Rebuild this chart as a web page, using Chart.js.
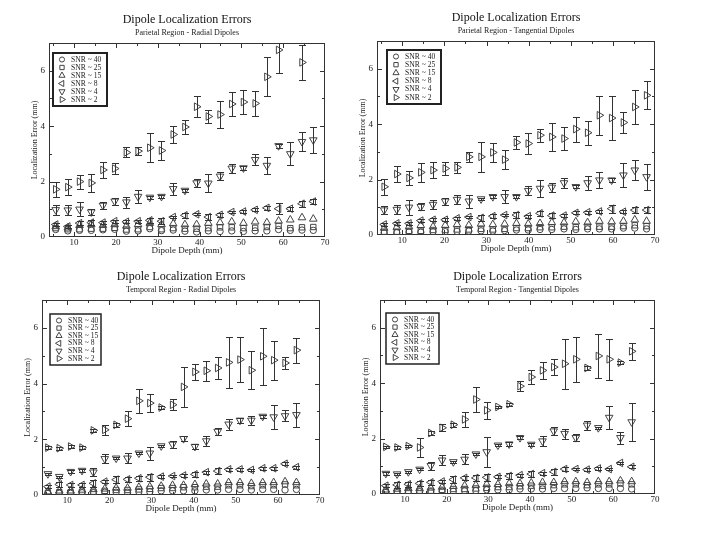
<!DOCTYPE html>
<html>
<head>
<meta charset="utf-8">
<title>Dipole Localization Errors</title>
<script src="https://cdn.jsdelivr.net/npm/chart.js@4.4.1/dist/chart.umd.min.js"></script>
<style>
  body { margin: 0; background: #fff; }
  #page { position: relative; width: 720px; height: 540px; overflow: hidden; background: #fff; }
  #page canvas { position: absolute; }
</style>
</head>
<body>
<div id="page">
  <canvas id="c1"></canvas>
  <canvas id="c2"></canvas>
  <canvas id="c3"></canvas>
  <canvas id="c4"></canvas>
</div>
<script>
// --- donnees ---
const snrLabels = ['SNR ~ 40', 'SNR ~ 25', 'SNR ~ 15', 'SNR ~ 8', 'SNR ~ 4', 'SNR ~ 2'];

const depthParRad = [5.6, 8.5, 11.3, 14.1, 16.9, 19.7, 22.5, 25.3, 28.1, 30.9, 33.7, 36.5, 39.3, 42.1, 44.9, 47.7, 50.5, 53.3, 56.1, 58.9, 61.7, 64.5, 67.2];
const depthParTan = [5.7, 8.7, 11.6, 14.4, 17.3, 20.2, 23.0, 25.8, 28.7, 31.5, 34.3, 37.1, 39.9, 42.7, 45.5, 48.4, 51.2, 54.0, 56.8, 59.7, 62.5, 65.2, 68.0];
const depthTemporal = [5.4, 8.1, 10.8, 13.5, 16.2, 18.9, 21.6, 24.3, 27.0, 29.6, 32.3, 35.0, 37.6, 40.3, 43.0, 45.7, 48.3, 51.0, 53.7, 56.4, 59.0, 61.7, 64.4];

// Parietal - radial
const parRad40 = [0.27, 0.22, 0.24, 0.24, 0.26, 0.28, 0.21, 0.22, 0.30, 0.23, 0.25, 0.21, 0.18, 0.22, 0.20, 0.22, 0.20, 0.22, 0.22, 0.27, 0.24, 0.25, 0.24];
const parRad25 = [0.32, 0.28, 0.28, 0.30, 0.30, 0.33, 0.27, 0.28, 0.36, 0.28, 0.32, 0.30, 0.30, 0.32, 0.35, 0.35, 0.32, 0.33, 0.36, 0.40, 0.32, 0.35, 0.36];
const parRad15 = [0.38, 0.33, 0.42, 0.45, 0.42, 0.45, 0.40, 0.45, 0.50, 0.45, 0.48, 0.45, 0.45, 0.50, 0.52, 0.55, 0.50, 0.55, 0.52, 0.58, 0.62, 0.70, 0.65];
const parRad8 = [0.45, 0.38, 0.50, 0.52, 0.52, 0.57, 0.55, 0.57, 0.60, 0.57, 0.72, 0.78, 0.82, 0.72, 0.80, 0.90, 0.92, 0.98, 1.05, 1.02, 1.02, 1.20, 1.28];
const parRad4 = [0.98, 0.97, 1.00, 0.90, 1.14, 1.29, 1.26, 1.46, 1.43, 1.46, 1.74, 1.68, 1.95, 1.94, 2.19, 2.48, 2.49, 2.79, 2.58, 3.29, 3.00, 3.44, 3.50];
const parRad2 = [1.72, 1.80, 2.00, 1.95, 2.42, 2.47, 3.05, 3.10, 3.22, 3.12, 3.70, 3.97, 4.70, 4.35, 4.42, 4.80, 4.87, 4.82, 5.78, 6.75, null, 6.30, null];
const errParRad8 = [0.06, 0.05, 0.06, 0.08, 0.06, 0.06, 0.05, 0.06, 0.10, 0.10, 0.05, 0.10, 0.04, 0.10, 0.08, 0.05, 0.05, 0.05, 0.06, 0.20, 0.08, 0.10, 0.10];
const errParRad4 = [0.18, 0.18, 0.25, 0.10, 0.13, 0.12, 0.20, 0.22, 0.05, 0.04, 0.21, 0.05, 0.13, 0.32, 0.15, 0.16, 0.07, 0.21, 0.30, 0.07, 0.42, 0.35, 0.46];
const errParRad2 = [0.28, 0.29, 0.25, 0.32, 0.29, 0.20, 0.18, 0.15, 0.52, 0.33, 0.32, 0.24, 0.37, 0.25, 0.50, 0.43, 0.44, 0.44, 0.70, 0.83, null, 0.63, null];

// Parietal - tangential
const parTan40 = [0.08, 0.08, 0.10, 0.10, 0.12, 0.12, 0.13, 0.14, 0.15, 0.14, 0.16, 0.18, 0.18, 0.20, 0.20, 0.22, 0.20, 0.22, 0.22, 0.22, 0.25, 0.25, 0.22];
const parTan25 = [0.12, 0.12, 0.15, 0.15, 0.18, 0.18, 0.20, 0.20, 0.22, 0.20, 0.22, 0.25, 0.25, 0.28, 0.28, 0.30, 0.28, 0.30, 0.30, 0.30, 0.32, 0.35, 0.32];
const parTan15 = [0.25, 0.28, 0.30, 0.35, 0.30, 0.35, 0.38, 0.35, 0.40, 0.38, 0.40, 0.42, 0.40, 0.42, 0.45, 0.45, 0.48, 0.45, 0.50, 0.48, 0.50, 0.55, 0.50];
const parTan8 = [0.38, 0.42, 0.42, 0.52, 0.55, 0.55, 0.60, 0.65, 0.62, 0.68, 0.72, 0.72, 0.68, 0.78, 0.70, 0.70, 0.80, 0.82, 0.85, 0.95, 0.84, 0.90, 0.90];
const parTan4 = [0.90, 0.92, 1.00, 1.02, 1.10, 1.22, 1.28, 1.22, 1.30, 1.38, 1.38, 1.38, 1.60, 1.68, 1.72, 1.88, 1.74, 1.88, 1.98, 1.98, 2.16, 2.34, 2.10];
const parTan2 = [1.74, 2.20, 2.06, 2.26, 2.34, 2.40, 2.44, 2.82, 2.82, 2.98, 2.72, 3.34, 3.30, 3.60, 3.54, 3.48, 3.82, 3.69, 4.32, 4.22, 4.06, 4.62, 5.04];
const errParTan8 = [0.05, 0.05, 0.06, 0.06, 0.05, 0.05, 0.05, 0.05, 0.10, 0.08, 0.05, 0.10, 0.05, 0.10, 0.08, 0.05, 0.05, 0.05, 0.05, 0.15, 0.06, 0.10, 0.10];
const errParTan4 = [0.16, 0.18, 0.27, 0.13, 0.15, 0.12, 0.16, 0.24, 0.05, 0.05, 0.24, 0.05, 0.17, 0.32, 0.16, 0.17, 0.05, 0.25, 0.30, 0.08, 0.42, 0.35, 0.47];
const errParTan2 = [0.28, 0.29, 0.26, 0.33, 0.30, 0.24, 0.20, 0.18, 0.54, 0.33, 0.33, 0.24, 0.38, 0.24, 0.50, 0.42, 0.45, 0.44, 0.70, 0.80, 0.38, 0.62, 0.50];

// Temporal - radial
const temRad40 = [0.05, 0.06, 0.06, 0.08, 0.08, 0.10, 0.10, 0.10, 0.12, 0.12, 0.15, 0.15, 0.15, 0.15, 0.18, 0.18, 0.20, 0.20, 0.18, 0.20, 0.20, 0.18, 0.20];
const temRad25 = [0.08, 0.10, 0.10, 0.12, 0.12, 0.15, 0.18, 0.18, 0.20, 0.22, 0.25, 0.25, 0.28, 0.28, 0.30, 0.30, 0.35, 0.35, 0.32, 0.35, 0.35, 0.38, 0.35];
const temRad15 = [0.12, 0.15, 0.15, 0.18, 0.20, 0.22, 0.25, 0.25, 0.28, 0.30, 0.32, 0.35, 0.35, 0.38, 0.40, 0.40, 0.45, 0.45, 0.42, 0.45, 0.45, 0.48, 0.45];
const temRad8 = [0.30, 0.38, 0.36, 0.36, 0.42, 0.48, 0.55, 0.56, 0.60, 0.64, 0.66, 0.68, 0.70, 0.74, 0.82, 0.86, 0.92, 0.92, 0.90, 0.96, 0.96, 1.12, 1.00];
const temRad4 = [0.76, 0.66, 0.84, 0.88, 0.82, 1.30, 1.32, 1.32, 1.50, 1.50, 1.76, 1.82, 2.02, 1.74, 1.94, 2.28, 2.54, 2.68, 2.68, 2.82, 2.80, 2.84, 2.88];
const temRad2 = [1.70, 1.68, 1.74, 1.70, 2.32, 2.34, 2.52, 2.74, 3.38, 3.30, 3.14, 3.24, 3.88, 4.42, 4.46, 4.56, 4.76, 4.86, 4.48, 4.98, 4.84, 4.74, 5.20];
const errTemRad8 = [0.05, 0.10, 0.08, 0.08, 0.12, 0.05, 0.12, 0.08, 0.10, 0.12, 0.05, 0.05, 0.05, 0.10, 0.05, 0.12, 0.05, 0.05, 0.05, 0.05, 0.05, 0.05, 0.05];
const errTemRad4 = [0.04, 0.04, 0.04, 0.04, 0.14, 0.16, 0.04, 0.18, 0.04, 0.24, 0.04, 0.12, 0.09, 0.08, 0.17, 0.13, 0.19, 0.10, 0.17, 0.05, 0.42, 0.20, 0.44];
const errTemRad2 = [0.05, 0.05, 0.05, 0.05, 0.06, 0.17, 0.07, 0.28, 0.42, 0.31, 0.07, 0.19, 0.72, 0.28, 0.36, 0.39, 0.91, 0.82, 0.69, 1.02, 0.70, 0.23, 0.45];

// Temporal - tangential
const temTan40 = [0.05, 0.05, 0.06, 0.08, 0.08, 0.10, 0.10, 0.12, 0.12, 0.15, 0.15, 0.15, 0.18, 0.18, 0.18, 0.20, 0.20, 0.20, 0.22, 0.20, 0.20, 0.20, 0.18];
const temTan25 = [0.08, 0.10, 0.10, 0.12, 0.12, 0.15, 0.18, 0.18, 0.20, 0.22, 0.25, 0.25, 0.28, 0.30, 0.30, 0.32, 0.35, 0.35, 0.32, 0.35, 0.35, 0.38, 0.35];
const temTan15 = [0.15, 0.18, 0.20, 0.20, 0.22, 0.25, 0.28, 0.30, 0.32, 0.35, 0.35, 0.38, 0.38, 0.40, 0.42, 0.42, 0.45, 0.45, 0.42, 0.45, 0.45, 0.48, 0.45];
const temTan8 = [0.30, 0.33, 0.35, 0.38, 0.42, 0.45, 0.52, 0.58, 0.58, 0.60, 0.62, 0.65, 0.68, 0.72, 0.75, 0.80, 0.90, 0.90, 0.88, 0.92, 0.90, 1.12, 0.98];
const temTan4 = [0.74, 0.72, 0.80, 0.89, 1.02, 1.22, 1.16, 1.25, 1.44, 1.52, 1.76, 1.80, 2.03, 1.79, 1.91, 2.27, 2.18, 2.03, 2.48, 2.39, 2.76, 2.03, 2.60];
const temTan2 = [1.70, 1.68, 1.73, 1.68, 2.20, 2.39, 2.50, 2.69, 3.41, 3.02, 3.14, 3.24, 3.89, 4.22, 4.46, 4.58, 4.70, 4.86, 4.55, 4.98, 4.86, 4.74, 5.15];
const errTemTan8 = [0.05, 0.10, 0.08, 0.08, 0.10, 0.05, 0.12, 0.08, 0.10, 0.12, 0.05, 0.10, 0.05, 0.10, 0.05, 0.12, 0.08, 0.05, 0.05, 0.05, 0.05, 0.05, 0.05];
const errTemTan4 = [0.04, 0.04, 0.04, 0.04, 0.15, 0.18, 0.04, 0.18, 0.04, 0.55, 0.04, 0.07, 0.06, 0.04, 0.17, 0.15, 0.18, 0.12, 0.17, 0.04, 0.42, 0.21, 0.70];
const errTemTan2 = [0.05, 0.04, 0.05, 0.33, 0.06, 0.13, 0.07, 0.28, 0.44, 0.31, 0.05, 0.05, 0.18, 0.26, 0.32, 0.30, 0.90, 0.81, 0.06, 0.78, 0.75, 0.06, 0.30];

const SERIF = "'Liberation Serif', 'DejaVu Serif', serif";
const SIDE = 40, TOP = 43, BOTTOM = 22;

// style des marqueurs : cercle, carre, triangle haut / gauche / bas / droite
const markers = [
    { style: 'circle', rot: 0, r: 3.2 },
    { style: 'rect', rot: 0, r: 3.8 },
    { style: 'triangle', rot: 0, r: 4.4 },
    { style: 'triangle', rot: 270, r: 4.4 },
    { style: 'triangle', rot: 180, r: 4.4 },
    { style: 'triangle', rot: 90, r: 4.4 }
];

const panels = [
    { id: 'c1', subtitle: 'Parietal Region - Radial Dipoles', depth: depthParRad,
      values: [parRad40, parRad25, parRad15, parRad8, parRad4, parRad2],
      errors: [null, null, null, errParRad8, errParRad4, errParRad2],
      area: { l: 49, t: 43, r: 325, b: 237 }, legend: { dx: 4, dy: 10, w: 54, h: 53, lw: 2 } },
    { id: 'c2', subtitle: 'Parietal Region - Tangential Dipoles', depth: depthParTan,
      values: [parTan40, parTan25, parTan15, parTan8, parTan4, parTan2],
      errors: [null, null, null, errParTan8, errParTan4, errParTan2],
      area: { l: 377, t: 41, r: 655, b: 235 }, legend: { dx: 10, dy: 9, w: 54, h: 54, lw: 2 } },
    { id: 'c3', subtitle: 'Temporal Region - Radial Dipoles', depth: depthTemporal,
      values: [temRad40, temRad25, temRad15, temRad8, temRad4, temRad2],
      errors: [null, null, null, errTemRad8, errTemRad4, errTemRad2],
      area: { l: 42, t: 300, r: 320, b: 495 }, legend: { dx: 8, dy: 14, w: 51, h: 51, lw: 1.5 } },
    { id: 'c4', subtitle: 'Temporal Region - Tangential Dipoles', depth: depthTemporal,
      values: [temTan40, temTan25, temTan15, temTan8, temTan4, temTan2],
      errors: [null, null, null, errTemTan8, errTemTan4, errTemTan2],
      area: { l: 380, t: 300, r: 655, b: 494 }, legend: { dx: 6, dy: 13, w: 53, h: 51, lw: 1.5 } }
];

// cadre + graduations vers l'interieur sur les 4 cotes
const framePlugin = {
    id: 'frame',
    beforeDatasetsDraw(chart) {
        const { ctx, chartArea: a, scales: { x, y } } = chart;
        ctx.save();
        ctx.strokeStyle = '#333';
        ctx.lineWidth = 1;
        ctx.strokeRect(a.left + 0.5, a.top + 0.5, a.right - a.left - 1, a.bottom - a.top - 1);
        ctx.beginPath();
        const xs = x.ticks.map(t => t.value);
        const xStep = xs[1] - xs[0];
        for (let v = xs[0] - xStep / 2; v < x.max; v += xStep / 2) {
            if (v <= x.min) continue;
            const len = (Math.abs((v - xs[0]) % xStep) < 1e-6) ? 5 : 3;
            const px = Math.round(x.getPixelForValue(v)) + 0.5;
            ctx.moveTo(px, a.bottom); ctx.lineTo(px, a.bottom - len);
            ctx.moveTo(px, a.top); ctx.lineTo(px, a.top + len);
        }
        const ys = y.ticks.map(t => t.value);
        const yStep = ys[1] - ys[0];
        for (let v = ys[0] + yStep / 2; v < y.max; v += yStep / 2) {
            const len = (Math.abs((v - ys[0]) % yStep) < 1e-6) ? 5 : 3;
            const py = Math.round(y.getPixelForValue(v)) + 0.5;
            ctx.moveTo(a.left, py); ctx.lineTo(a.left + len, py);
            ctx.moveTo(a.right, py); ctx.lineTo(a.right - len, py);
        }
        ctx.stroke();
        ctx.restore();
    }
};

// barres d'erreur (pas dans Chart.js de base)
const errorBarPlugin = {
    id: 'errorBars',
    afterDatasetsDraw(chart) {
        const { ctx, chartArea: a, scales: { x, y } } = chart;
        ctx.save();
        ctx.beginPath();
        ctx.rect(a.left, a.top, a.right - a.left, a.bottom - a.top);
        ctx.clip();
        ctx.strokeStyle = '#333';
        ctx.lineWidth = 1;
        ctx.beginPath();
        chart.data.datasets.forEach(ds => {
            ds.data.forEach(p => {
                if (!p.err) return;
                const px = Math.round(x.getPixelForValue(p.x)) + 0.5;
                const top = Math.round(y.getPixelForValue(p.y + p.err)) + 0.5;
                const bot = Math.round(y.getPixelForValue(p.y - p.err)) + 0.5;
                ctx.moveTo(px, top); ctx.lineTo(px, bot);
                ctx.moveTo(px - 3.5, top); ctx.lineTo(px + 3.5, top);
                ctx.moveTo(px - 3.5, bot); ctx.lineTo(px + 3.5, bot);
            });
        });
        ctx.stroke();
        ctx.restore();
    }
};

// legende encadree dans le coin haut gauche
const snrLegend = {
    id: 'snrLegend',
    afterDraw(chart, args, opts) {
        const { ctx, chartArea: a } = chart;
        const bx = a.left + opts.dx, by = a.top + opts.dy;
        ctx.save();
        ctx.fillStyle = '#fff';
        ctx.fillRect(bx, by, opts.w, opts.h);
        ctx.lineWidth = opts.lw;
        ctx.strokeStyle = '#222';
        ctx.strokeRect(bx, by, opts.w, opts.h);
        ctx.font = '7.6px ' + SERIF;
        ctx.textBaseline = 'middle';
        chart.data.datasets.forEach((ds, i) => {
            const cy = by + 6.5 + i * (opts.h - 13) / 5;
            ctx.strokeStyle = '#444';
            ctx.fillStyle = 'rgba(0,0,0,0)';
            ctx.lineWidth = 1;
            Chart.helpers.drawPoint(ctx, { pointStyle: ds.pointStyle, rotation: ds.pointRotation, radius: ds.pointRadius * 0.8, borderWidth: 1 }, bx + 9, cy);
            ctx.fillStyle = '#222';
            ctx.fillText(ds.label, bx + 18, cy);
        });
        ctx.restore();
    }
};

panels.forEach(p => {
    const cv = document.getElementById(p.id);
    const w = (p.area.r - p.area.l) + 2 * SIDE;
    const h = (p.area.b - p.area.t) + TOP + BOTTOM;
    cv.width = w; cv.height = h;
    cv.style.width = w + 'px'; cv.style.height = h + 'px';
    cv.style.left = (p.area.l - SIDE) + 'px';
    cv.style.top = (p.area.t - TOP) + 'px';

    const datasets = p.values.map((vals, i) => ({
        label: snrLabels[i],
        data: p.depth.map((d, j) => ({ x: d, y: vals[j], err: p.errors[i] ? p.errors[i][j] : 0 }))
                     .filter(pt => pt.y !== null),
        pointStyle: markers[i].style,
        pointRotation: markers[i].rot,
        pointRadius: markers[i].r,
        pointBorderWidth: 1,
        pointBorderColor: '#444',
        pointBackgroundColor: 'rgba(0,0,0,0)',
        showLine: false
    }));

    new Chart(cv, {
        type: 'scatter',
        data: { datasets: datasets },
        options: {
            responsive: false,
            animation: false,
            events: [],
            layout: { padding: 0 },
            plugins: {
                legend: { display: false },
                tooltip: { enabled: false },
                title: { display: true, text: 'Dipole Localization Errors', color: '#111',
                         font: { family: SERIF, size: 12, weight: 'normal', lineHeight: 1 },
                         padding: { top: 14, bottom: 0 } },
                subtitle: { display: true, text: p.subtitle, color: '#222',
                            font: { family: SERIF, size: 8, lineHeight: 1 },
                            padding: { top: 3, bottom: 6 } },
                snrLegend: p.legend
            },
            scales: {
                x: {
                    type: 'linear', min: 4, max: 70,
                    ticks: { stepSize: 10, includeBounds: false, maxRotation: 0, padding: 0,
                             color: '#222', font: { family: SERIF, size: 9 } },
                    grid: { display: false, drawTicks: false },
                    border: { display: false },
                    title: { display: true, text: 'Dipole Depth (mm)', color: '#222',
                             font: { family: SERIF, size: 9 }, padding: { top: 0, bottom: 3 } },
                    afterFit: s => { s.height = BOTTOM; }
                },
                y: {
                    type: 'linear', min: 0, max: 7,
                    ticks: { stepSize: 2, includeBounds: false, padding: 4,
                             color: '#222', font: { family: SERIF, size: 9 } },
                    grid: { display: false, drawTicks: false },
                    border: { display: false },
                    title: { display: true, text: 'Localization Error (mm)', color: '#222',
                             font: { family: SERIF, size: 8 }, padding: { top: 21, bottom: 0 } },
                    afterFit: s => { s.width = SIDE; }
                },
                yr: {
                    type: 'linear', position: 'right',
                    ticks: { display: false },
                    grid: { display: false, drawTicks: false },
                    border: { display: false },
                    afterFit: s => { s.width = SIDE; }
                }
            }
        },
        plugins: [framePlugin, errorBarPlugin, snrLegend]
    });
});
</script>
</body>
</html>
